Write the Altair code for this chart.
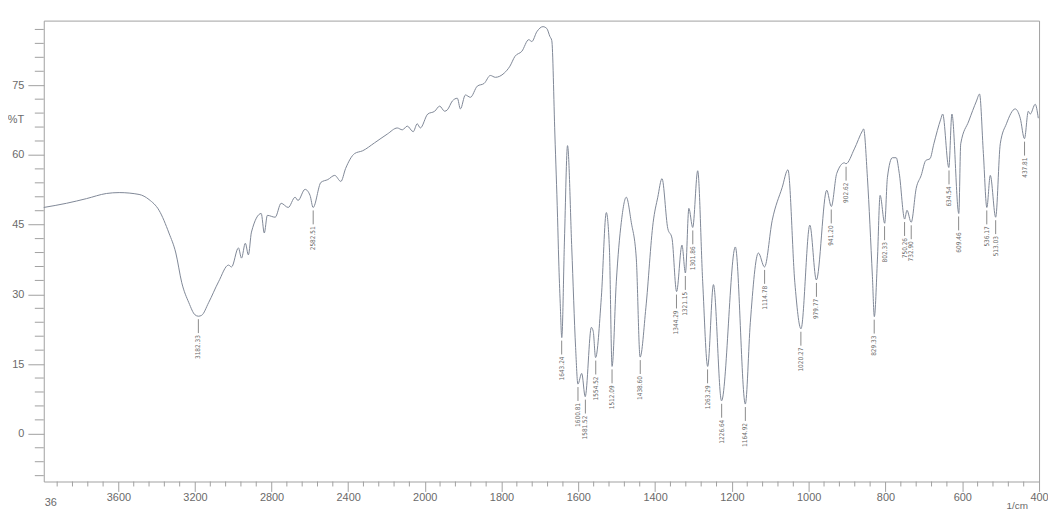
import altair as alt
import pandas as pd

# ---- spectrum (wavenumber in 1/cm, %T) ----
wavenumber = [3990, 3871, 3767, 3663, 3596, 3492, 3440, 3388, 3336, 3300, 3269, 3232, 3200, 3182, 3165,
              3129, 3077, 3025, 3009, 2973, 2957, 2937, 2921, 2905, 2854, 2838, 2822, 2781, 2750, 2713,
              2677, 2662, 2625, 2599, 2583, 2542, 2506, 2470, 2438, 2413, 2366, 2324, 2262, 2195, 2143,
              2117, 2091, 2060, 2039, 2023, 1992, 1974, 1961, 1948, 1941, 1928, 1915, 1907, 1894, 1881,
              1863, 1845, 1829, 1816, 1793, 1778, 1765, 1747, 1729, 1721, 1708, 1692, 1682, 1674, 1669,
              1661, 1654, 1651, 1647, 1643, 1636, 1628, 1617, 1607, 1601, 1591, 1582, 1566, 1561, 1555,
              1540, 1527, 1519, 1512, 1501, 1488, 1475, 1462, 1449, 1439, 1424, 1405, 1393, 1382, 1367,
              1356, 1344, 1330, 1321, 1312, 1302, 1289, 1276, 1263, 1248, 1227, 1191, 1165, 1152, 1131,
              1115, 1095, 1069, 1054, 1036, 1020, 997, 980, 953, 941, 927, 907, 903, 881, 860,
              857, 847, 834, 829, 821, 814, 802, 795, 782, 772, 764, 750, 744, 733, 720,
              707, 695, 684, 674, 656, 651, 635, 627, 609, 604, 583, 563, 555, 545, 536,
              527, 513, 501, 485, 462, 449, 438, 428, 423, 410, 402]
transmittance = [48.7, 49.6, 50.6, 51.7, 51.9, 51.5, 50.4, 48.1, 43.2, 38.9, 32.5, 28.2, 25.6, 25.3, 25.5,
                 28.2, 32.7, 36.3, 35.9, 40.0, 37.8, 41.0, 38.5, 43.4, 47.4, 43.2, 47.0, 46.6, 49.6, 48.7,
                 50.9, 50.2, 52.6, 51.3, 48.7, 54.1, 54.7, 55.6, 54.3, 57.1, 60.3, 60.9, 62.6, 64.5, 65.8,
                 65.4, 66.2, 65.0, 66.7, 65.8, 68.8, 69.4, 70.5, 69.4, 69.7, 71.6, 72.2, 69.9, 72.9, 72.4,
                 74.8, 75.4, 77.1, 76.7, 77.6, 79.1, 81.2, 82.3, 84.8, 84.4, 86.5, 87.6, 87.2, 85.5, 84.6,
                 64.5, 46.6, 37.4, 28.0, 20.7, 41.7, 62.0, 40.0, 18.6, 10.7, 13.0, 8.0, 22.9, 22.0, 16.4,
                 29.3, 47.6, 40.0, 14.5, 32.7, 45.5, 50.9, 45.5, 37.8, 16.5, 27.1, 45.5, 50.9, 54.9, 44.2,
                 42.1, 30.6, 40.6, 34.6, 48.5, 44.4, 56.6, 32.7, 14.5, 32.1, 7.1, 40.2, 6.4, 23.9, 38.9,
                 35.9, 45.9, 53.0, 56.8, 32.5, 22.6, 44.9, 33.1, 52.4, 48.9, 56.0, 58.3, 58.1, 61.3, 65.2,
                 65.6, 55.1, 33.8, 25.2, 37.4, 51.3, 45.3, 55.1, 59.4, 59.4, 56.0, 46.2, 48.1, 45.5, 52.8,
                 55.6, 58.8, 59.2, 62.4, 67.7, 68.8, 57.3, 68.8, 47.4, 62.4, 67.3, 71.6, 73.1, 60.3, 48.7,
                 55.6, 46.6, 62.4, 66.7, 69.9, 67.9, 63.5, 69.4, 68.8, 70.9, 67.9]

# ---- peak annotations ----
peak_wn = [3182.33, 2582.51, 1643.24, 1600.81, 1581.52, 1554.52, 1512.09, 1438.60, 1344.29, 1321.15,
           1301.86, 1263.29, 1226.64, 1164.92, 1114.78, 1020.27, 979.77, 941.20, 902.62, 829.33,
           802.33, 750.26, 732.90, 634.54, 609.46, 536.17, 513.03, 437.81]
peak_t = [25.3, 48.7, 20.7, 10.7, 8.0, 16.4, 14.5, 16.5, 30.6, 34.6,
          44.4, 14.5, 7.1, 6.4, 35.9, 22.6, 33.1, 48.9, 58.1, 25.2,
          45.3, 46.2, 45.5, 57.3, 47.4, 48.7, 46.6, 63.5]
peak_text = ["3182.33", "2582.51", "1643.24", "1600.81", "1581.52", "1554.52", "1512.09", "1438.60",
             "1344.29", "1321.15", "1301.86", "1263.29", "1226.64", "1164.92", "1114.78", "1020.27",
             "979.77", "941.20", "902.62", "829.33", "802.33", "750.26", "732.90", "634.54", "609.46",
             "536.17", "513.03", "437.81"]

# ---- axis ticks ----
x_major = [3600, 3200, 2800, 2400, 2000, 1800, 1600, 1400, 1200, 1000, 800, 600, 400]
x_minor = [v for v in range(3920, 2000, -80) if v % 400 != 0] + \
          [v for v in range(1960, 400, -40) if v % 200 != 0]
y_major = [0, 15, 30, 45, 60, 75]
y_minor = [v for v in range(-9, 88, 3) if v % 15 != 0]

W, H = 1002, 464
LINE = "#7f8796"
GRID = "#a0a0a0"
TXT = "#6a6a6a"
SMALL_FONT = "Liberation Sans Narrow, DejaVu Sans Condensed, Liberation Sans, sans-serif"

spec = pd.DataFrame({"wn": wavenumber, "t": transmittance, "i": list(range(len(wavenumber)))})
peaks = pd.DataFrame({"wn": peak_wn, "t": peak_t, "lab": peak_text})
xminor_df = pd.DataFrame({"wn": x_minor})
yminor_df = pd.DataFrame({"t": y_minor})

xscale = alt.Scale(domain=[3990, 2000, 400], range=[0, 383.5, W], nice=False, zero=False)
yscale = alt.Scale(domain=[-10.26, 88.9], nice=False, zero=False)
xaxis = alt.Axis(values=x_major, tickSize=10, labelPadding=0, labelFlush=False,
                 labelOverlap=False, domain=False, grid=False, format="d", title=None)
yaxis = alt.Axis(values=y_major, tickSize=16, labelPadding=4, domain=False, grid=False, title=None)

X = alt.X("wn:Q", scale=xscale, axis=xaxis)
Y = alt.Y("t:Q", scale=yscale, axis=yaxis)

line = alt.Chart(spec).mark_line(color=LINE, strokeWidth=1, interpolate="monotone").encode(
    x=X, y=Y, order=alt.Order("i:Q"),
)

xminor = alt.Chart(xminor_df).mark_rule(color=GRID, strokeWidth=1).encode(
    x=X, y=alt.value(H), y2=alt.value(H + 5),
)
yminor = alt.Chart(yminor_df).mark_rule(color=GRID, strokeWidth=1).encode(
    y=Y, x=alt.value(-9), x2=alt.value(0),
)

peak_ticks = alt.Chart(peaks).mark_rule(color="#8a8a8a", strokeWidth=1, yOffset=3, y2Offset=17).encode(
    x=X, y=Y, y2="t:Q",
)
peak_labels = alt.Chart(peaks).mark_text(
    angle=270, align="right", baseline="middle", yOffset=19,
    font=SMALL_FONT, fontSize=6.5, color=TXT,
).encode(x=X, y=Y, text="lab:N")


def label(s, px, py, size=11):
    return alt.Chart(pd.DataFrame({"s": [s]})).mark_text(
        font="Liberation Sans", fontSize=size, color=TXT, align="center", baseline="middle"
    ).encode(x=alt.value(px), y=alt.value(py), text="s:N")


chart = alt.layer(
    line, xminor, yminor, peak_ticks, peak_labels,
    label("%T", -28, 100), label("1/cm", 980, 489, 10), label("36", 7, 486),
).properties(
    width=W, height=H,
    autosize=alt.AutoSizeParams(type="none"),
    padding={"left": 36, "top": 11, "right": 9, "bottom": 28},
    background="white",
).configure_view(
    stroke=GRID, strokeWidth=1,
).configure_axis(
    tickColor=GRID, labelColor=TXT, labelFont="Liberation Sans", labelFontSize=11,
)

chart.save("out.html", embed_options={"renderer": "svg", "actions": False})
